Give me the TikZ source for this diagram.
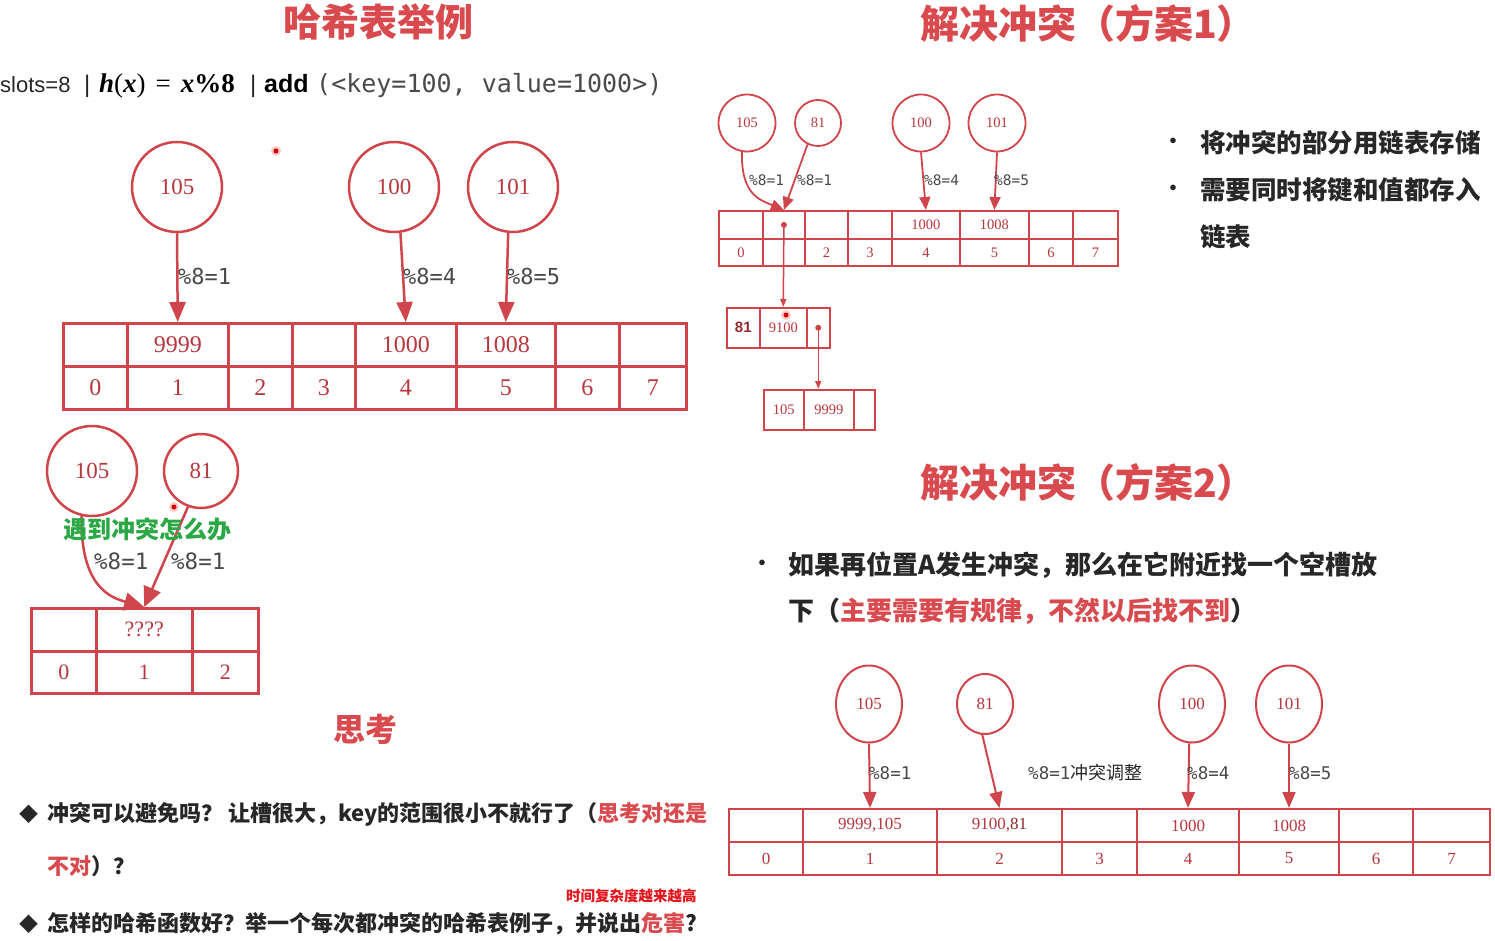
\documentclass[tikz,border=0pt]{standalone}
\usepackage{fontspec}
\usetikzlibrary{shapes.geometric,arrows.meta,calc}
\setmainfont{Noto Sans CJK SC}
\newfontfamily\sern{Liberation Serif}
\newfontfamily\monof{DejaVu Sans Mono}
\newfontfamily\arialf{Liberation Sans}
\newcommand\fsz[1]{\fontsize{#1}{#1}\selectfont}
\definecolor{tred}{HTML}{D0454B}
\definecolor{tnum}{HTML}{B8363D}
\definecolor{titred}{HTML}{D94A4F}
\definecolor{dk}{HTML}{272727}
\definecolor{monoc}{HTML}{4A4A4A}
\definecolor{grn}{HTML}{2BA845}
\definecolor{hot}{HTML}{E4141C}
\tikzset{
  x=1pt, y=-1pt,
  txt/.style={inner sep=0, anchor=west},
  title/.style={txt, text=titred, font=\bfseries\fsz{39}},
  cellTL/.style={draw=tred, line width=2.5pt, inner sep=0, anchor=north west, text=tnum, font={\sern\fsz{24}}},
  cellTR/.style={draw=tred, line width=1.8pt, inner sep=0, anchor=north west, text=tnum, font={\sern\fsz{14.5}}},
  cellBR/.style={draw=tred, line width=2pt, inner sep=0, anchor=north west, text=tnum, font={\sern\fsz{17}}},
  circ/.style={ellipse, draw=tred, inner sep=0, text=tnum},
  circTL/.style={circ, line width=2.5pt, minimum width=90pt, minimum height=90pt, font={\sern\fsz{23}}},
  circTR/.style={circ, line width=1.8pt, font={\sern\fsz{14.5}}},
  circBR/.style={circ, line width=2pt, font={\sern\fsz{17}}},
  arrTL/.style={draw=tred, line width=2.5pt, -{Triangle[length=20pt,width=16pt]}},
  arrTR/.style={draw=tred, line width=1.8pt, -{Triangle[length=13pt,width=11pt]}},
  arrBR/.style={draw=tred, line width=2pt, -{Triangle[length=16pt,width=13pt]}},
  arrLink/.style={draw=tred, line width=1.5pt, -{Triangle[length=8pt,width=6pt]}},
  lbl/.style={txt, text=monoc, font=\monof},
  bul/.style={txt, text=dk, font=\bfseries},
}
\begin{document}
\begin{tikzpicture}
\useasboundingbox (0,0) rectangle (1495,941);
\fill[white] (0,0) rectangle (1495,941);

% ================= top-left =================
\node[txt, anchor=center, text=titred, font=\bfseries\fsz{38}] (tTL) at (378,22) {哈希表举例};
\node[txt, anchor=base west, text=dk, font={\arialf\fsz{22}}] (h1) at (0,93) {slots=8};
\node[txt, anchor=base west, text=dk, font={\arialf\fsz{24}}] (h2) at (84,93) {|};
\node[txt, anchor=base west, text=black, font={\sern\fsz{27}}] (h3) at (99,93) {\textbf{\textit{h}}(\textbf{\textit{x}})\hspace{10pt}=\hspace{10pt}\textbf{\textit{x}}\textbf{\%8}};
\node[txt, anchor=base west, text=dk, font={\arialf\fsz{24}}] (h4) at (250,93) {|};
\node[txt, anchor=base west, text=black, font={\arialf\bfseries\fsz{25}}] (h5) at (264,93) {add};
\node[txt, anchor=base west, text=monoc, font={\monof\fsz{25}}] (h6) at (316,93) {(<key=100, value=1000>)};

\foreach \a/\b/\tx [count=\i from 0] in {62/126/{},126/227/9999,227/291/{},291/354/{},354/455/1000,455/554/1008,554/618/{},618/685/{}}{
  \pgfmathsetmacro\w{\b-\a}
  \node[cellTL, minimum width=\w pt, minimum height=43pt] (TLv\i) at (\a,322) {\tx};
  \node[cellTL, minimum width=\w pt, minimum height=43pt] (TLk\i) at (\a,365) {\i};
}
\node[circTL] (TLc105) at (177,187) {105};
\node[circTL] (TLc100) at (394,187) {100};
\node[circTL] (TLc101) at (513,187) {101};
\draw[arrTL] (TLc105.south) -- (TLv1.north);
\draw[arrTL] (TLc100.-82) -- (TLv4.north);
\draw[arrTL] (TLc101.-96) -- (TLv5.north);
\node[lbl, font={\monof\fsz{22}}] (TLl1) at (178,276) {\%8=1};
\node[lbl, font={\monof\fsz{22}}] (TLl4) at (403,276) {\%8=4};
\node[lbl, font={\monof\fsz{22}}] (TLl5) at (507,276) {\%8=5};
\fill[red!60, opacity=0.35] (276,151) circle (5);
\fill[red!85!black] (276,151) circle (2.5);

% ================= bottom-left =================
\foreach \a/\b/\tx [count=\i from 0] in {30/95/{},95/191/????,191/257/{}}{
  \pgfmathsetmacro\w{\b-\a}
  \node[cellTL, minimum width=\w pt, minimum height=43pt, font={\sern\fsz{22}}] (BLv\i) at (\a,607) {\tx};
  \node[cellTL, minimum width=\w pt, minimum height=42pt, font={\sern\fsz{22}}] (BLk\i) at (\a,650) {\i};
}
\node[circTL] (BLc105) at (92,471) {105};
\node[circTL, minimum width=74pt, minimum height=74pt] (BLc81) at (201,471) {81};
\draw[arrTL, -{Triangle[length=20pt,width=18pt]}] (BLc105.-103) .. controls (80,588) and (112,598) .. (BLv1.north);
\draw[arrTL, -{Triangle[length=20pt,width=18pt]}] (BLc81.-110) -- (BLv1.north);
\node[txt, text=grn, font=\bfseries\fsz{24}] (green) at (63,529) {遇到冲突怎么办};
\node[lbl, font={\monof\fsz{22.5}}] (BLl1) at (94,561) {\%8=1};
\node[lbl, font={\monof\fsz{22.5}}] (BLl2) at (171,561) {\%8=1};
\fill[red!60, opacity=0.35] (174,507) circle (5);
\fill[red!85!black] (174,507) circle (2.5);

% ================= thinking =================
\node[txt, anchor=center, text=titred, font=\bfseries\fsz{32}] (think) at (365,729) {思考};
\node[txt, text=dk, font=\fsz{19}] (d1) at (19,814) {◆};
\node[bul, font=\bfseries\fsz{22}] (q1) at (47,814) {冲突可以避免吗？ 让槽很大，key的范围很小不就行了（\textcolor{titred}{思考对还是}};
\node[bul, font=\bfseries\fsz{22}] (q1b) at (47,866) {\textcolor{titred}{不对}）？};
\node[txt, text=hot, font=\bfseries\fsz{14.5}] (hot) at (566,896) {时间复杂度越来越高};
\node[txt, text=dk, font=\fsz{19}] (d2) at (19,924) {◆};
\node[bul, font=\bfseries\fsz{22}] (q2) at (47,924) {怎样的哈希函数好？举一个每次都冲突的哈希表例子，并说出\textcolor{titred}{危害}?};

% ================= top-right (scheme 1) =================
\node[title] (tTR) at (920,24) {解决冲突（方案1）};
\foreach \a/\b/\tx [count=\i from 0] in {718/762/{},762/804/{},804/847/{},847/891/{},891/959/1000,959/1028/1008,1028/1072/{},1072/1117/{}}{
  \pgfmathsetmacro\w{\b-\a}
  \node[cellTR, minimum width=\w pt, minimum height=28pt] (TRv\i) at (\a,210) {\tx};
}
\foreach \a/\b/\tx [count=\i from 0] in {718/762/0,762/804/{},804/847/2,847/891/3,891/959/4,959/1028/5,1028/1072/6,1072/1117/7}{
  \pgfmathsetmacro\w{\b-\a}
  \node[cellTR, minimum width=\w pt, minimum height=27pt] (TRk\i) at (\a,238) {\tx};
}
\node[circTR, minimum width=57pt, minimum height=57pt] (TRc105) at (747,123) {105};
\node[circTR, minimum width=46pt, minimum height=46pt] (TRc81) at (818,123) {81};
\node[circTR, minimum width=57pt, minimum height=57pt] (TRc100) at (921,123) {100};
\node[circTR, minimum width=57pt, minimum height=57pt] (TRc101) at (997,123) {101};
\draw[arrTR] (TRc105.-100) .. controls (741,195) and (760,200) .. (TRv1.north);
\draw[arrTR] (TRc81.-116) -- (TRv1.north);
\draw[arrTR] (TRc100.south) -- (TRv4.north);
\draw[arrTR] (TRc101.south) -- (TRv5.north);
\node[lbl, font={\monof\fsz{14.5}}] (TRl1) at (749,180) {\%8=1};
\node[lbl, font={\monof\fsz{14.5}}] (TRl2) at (797,180) {\%8=1};
\node[lbl, font={\monof\fsz{14.5}}] (TRl4) at (924,180) {\%8=4};
\node[lbl, font={\monof\fsz{14.5}}] (TRl5) at (994,180) {\%8=5};
% linked list nodes
\foreach \a/\b/\tx [count=\i from 0] in {726/759/{},759/806/9100,806/829/{}}{
  \pgfmathsetmacro\w{\b-\a}
  \node[cellTR, line width=1.5pt, minimum width=\w pt, minimum height=40pt] (L1v\i) at (\a,307) {\tx};
}
\node[txt, anchor=center, text=tnum!80!black, font={\arialf\bfseries\fsz{15}}] (L1key) at (L1v0.center) {81};
\foreach \a/\b/\tx [count=\i from 0] in {763/803/105,803/853/9999,853/874/{}}{
  \pgfmathsetmacro\w{\b-\a}
  \node[cellTR, line width=1.5pt, minimum width=\w pt, minimum height=40pt] (L2v\i) at (\a,389) {\tx};
}
\fill[tred] (TRv1.center) circle (3);
\fill[tred] (L1v2.center) circle (3);
\coordinate (L2in) at (L1v2.center |- L2v1.north);
\draw[arrLink] (TRv1.center) -- (L1v1.north);
\draw[arrLink] (L1v2.center) -- (L2in);
\fill[red!60, opacity=0.35] (786,315) circle (5);
\fill[red!85!black] (786,315) circle (2.5);

\node[txt, text=dk, font=\bfseries\fsz{20}] (b1) at (1163,143) {•};
\node[bul, font=\bfseries\fsz{25.5}] (r1) at (1200,143) {将冲突的部分用链表存储};
\node[txt, text=dk, font=\bfseries\fsz{20}] (b2) at (1163,190) {•};
\node[bul, font=\bfseries\fsz{25.5}] (r2) at (1200,190) {需要同时将键和值都存入};
\node[bul, font=\bfseries\fsz{25.5}] (r3) at (1200,237) {链表};

% ================= bottom-right (scheme 2) =================
\node[title] (tBR) at (920,483) {解决冲突（方案2）};
\node[txt, text=dk, font=\bfseries\fsz{20}] (b3) at (752,565) {•};
\node[bul, font=\bfseries\fsz{26}] (s1) at (788,565) {如果再位置A发生冲突，那么在它附近找一个空槽放};
\node[bul, font=\bfseries\fsz{26}] (s2) at (788,611) {下（\textcolor{titred}{主要需要有规律，不然以后找不到}）};

\foreach \a/\b/\tx [count=\i from 0] in {728/802/{},802/936/{9999,105},936/1061/{9100,\textcolor{tnum!75!black}{81}},1061/1136/{},1136/1238/1000,1238/1338/1008,1338/1412/{},1412/1489/{}}{
  \pgfmathsetmacro\w{\b-\a}
  \node[cellBR, minimum width=\w pt, minimum height=33pt] (BRv\i) at (\a,808) {\tx};
  \node[cellBR, minimum width=\w pt, minimum height=33pt] (BRk\i) at (\a,841) {\i};
}
\node[circBR, minimum width=66pt, minimum height=77pt] (BRc105) at (869,704) {105};
\node[circBR, minimum width=56pt, minimum height=60pt] (BRc81) at (985,704) {81};
\node[circBR, minimum width=66pt, minimum height=77pt] (BRc100) at (1192,704) {100};
\node[circBR, minimum width=66pt, minimum height=77pt] (BRc101) at (1289,704) {101};
\draw[arrBR] (BRc105.south) -- (BRv1.north);
\draw[arrBR] (BRc81.-95) -- (BRv2.north);
\draw[arrBR] (BRc100.-94) -- (BRv4.north);
\draw[arrBR] (BRc101.south) -- (BRv5.north);
\node[lbl, font={\monof\fsz{17.5}}] (BRl1) at (869,773) {\%8=1};
\node[lbl, font={\monof\fsz{17.5}}] (BRl2) at (1028,773) {\%8=1\textcolor{dk}{\rmfamily\fsz{18}冲突调整}};
\node[lbl, font={\monof\fsz{17.5}}] (BRl4) at (1187,773) {\%8=4};
\node[lbl, font={\monof\fsz{17.5}}] (BRl5) at (1289,773) {\%8=5};
\end{tikzpicture}
\end{document}
